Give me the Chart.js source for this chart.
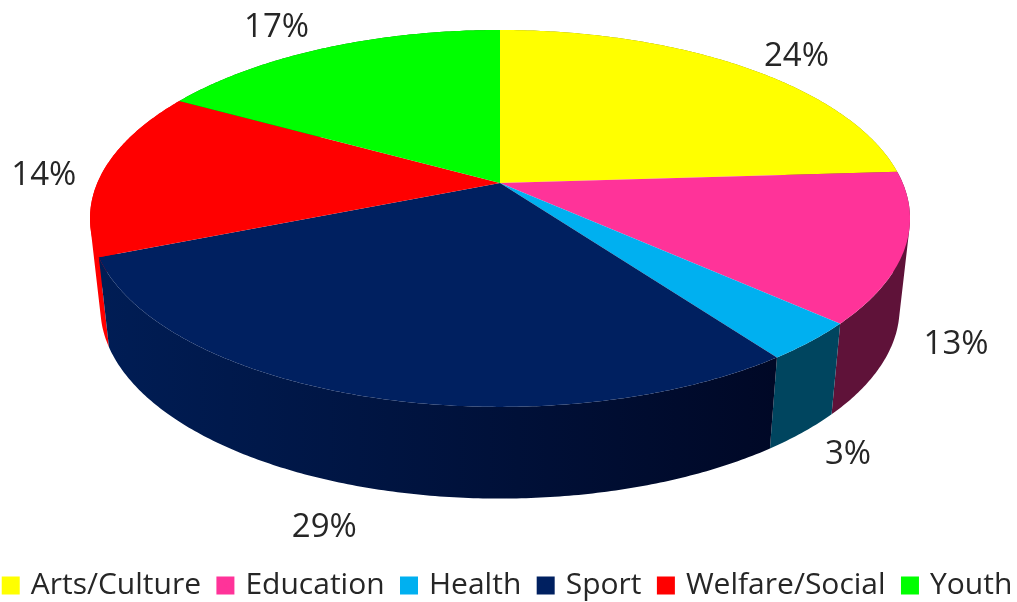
<!DOCTYPE html>
<html>
<head>
<meta charset="utf-8">
<title>Pie</title>
<script src="https://cdn.jsdelivr.net/npm/chart.js@4/dist/chart.umd.min.js"></script>
<style>
  html, body { margin: 0; padding: 0; background: #fff; }
  #wrap { width: 1017px; height: 602px; }
</style>
</head>
<body>
<div id="wrap"><canvas id="pie-chart"></canvas></div>
<script>
var categories = ['Arts/Culture', 'Education', 'Health', 'Sport', 'Welfare/Social', 'Youth'];
var shares = [24.0, 12.8, 3.3, 28.7, 14.4, 16.8];
var topColors = ['#ffff00', '#ff3399', '#00b0f0', '#002060', '#ff0000', '#00ff00'];
var wallColors = [
  ['#7f7f00', '#7f7f00'],
  ['#5f1239', '#5f1239'],
  ['#00455f', '#00455f'],
  ['#001d55', '#000826'],
  ['#ff0000', '#ff0000'],
  ['#007f00', '#007f00']
];
// label nudge away from the rim, in px
var labelNudges = [[54, -10], [51, 97], [37, 113], [-40, 131], [-59, 4], [-49, -20]];

// tilted disc, near edge bigger (homography of the unit circle)
var tilt = -0.188;
var topFace = { cx: 500, cy: 183, rx: 402.7, ry: 181.8 };
var lowFace = { cx: 500, cy: 272, rx: 392.5, ry: 184 };

function project(face, angle) {
  var u = Math.cos(angle), v = Math.sin(angle);
  var d = 1 + tilt * v;
  return { x: face.cx + face.rx * u / d, y: face.cy + face.ry * v / d };
}

function rim(face, start, end) {
  var pts = [];
  var steps = Math.max(2, Math.ceil((end - start) / 0.01));
  for (var i = 0; i <= steps; i++) {
    pts.push(project(face, start + (end - start) * i / steps));
  }
  return pts;
}

// one quad per step, all wound the same way so the fill is their union
function addQuad(ctx, a, b, c, d) {
  var q = [a, b, c, d];
  var area = 0;
  for (var i = 0; i < 4; i++) {
    var n = q[(i + 1) % 4];
    area += q[i].x * n.y - n.x * q[i].y;
  }
  if (area < 0) q.reverse();
  ctx.moveTo(q[0].x, q[0].y);
  ctx.lineTo(q[1].x, q[1].y);
  ctx.lineTo(q[2].x, q[2].y);
  ctx.lineTo(q[3].x, q[3].y);
  ctx.closePath();
}

var tiltedPie = {
  id: 'tiltedPie',
  beforeDatasetDraw: function(chart) {
    var ctx = chart.ctx;
    var arcs = chart.getDatasetMeta(0).data.map(function(arc, i) {
      return { i: i, start: arc.startAngle, end: arc.endAngle };
    });

    // walls, back to front
    arcs.slice().sort(function(a, b) {
      return Math.sin((a.start + a.end) / 2) - Math.sin((b.start + b.end) / 2);
    }).forEach(function(a) {
      var upper = rim(topFace, a.start, a.end);
      var lower = rim(lowFace, a.start, a.end);
      var left = Math.min(upper[0].x, upper[upper.length - 1].x);
      var right = Math.max(upper[0].x, upper[upper.length - 1].x);
      var grad = ctx.createLinearGradient(left, 0, right, 0);
      grad.addColorStop(0, wallColors[a.i][0]);
      grad.addColorStop(1, wallColors[a.i][1]);
      ctx.beginPath();
      for (var s = 0; s < upper.length - 1; s++) {
        addQuad(ctx, upper[s], upper[s + 1], lower[s + 1], lower[s]);
      }
      ctx.fillStyle = grad;
      ctx.fill();
    });

    // top face
    arcs.forEach(function(a) {
      ctx.beginPath();
      ctx.moveTo(topFace.cx, topFace.cy);
      rim(topFace, a.start, a.end).forEach(function(p) { ctx.lineTo(p.x, p.y); });
      ctx.closePath();
      ctx.fillStyle = topColors[a.i];
      ctx.fill();
    });

    // percent labels
    ctx.font = '33px "Open Sans"';
    ctx.fillStyle = '#262626';
    ctx.textAlign = 'center';
    ctx.textBaseline = 'middle';
    arcs.forEach(function(a) {
      var p = project(topFace, (a.start + a.end) / 2);
      ctx.fillText(Math.round(shares[a.i]) + '%', p.x + labelNudges[a.i][0], p.y + labelNudges[a.i][1]);
    });
    return false;
  }
};

new Chart(document.getElementById('pie-chart'), {
  type: 'pie',
  data: {
    labels: categories,
    datasets: [{
      data: shares,
      backgroundColor: topColors,
      borderColor: topColors,
      borderWidth: 8
    }]
  },
  plugins: [tiltedPie],
  options: {
    responsive: true,
    maintainAspectRatio: false,
    animation: false,
    layout: { padding: { left: -25, right: -26, bottom: -8.4 } },
    plugins: {
      tooltip: { enabled: false },
      legend: {
        position: 'bottom',
        labels: {
          color: '#262626',
          font: { family: 'Open Sans', size: 30 },
          boxWidth: 10,
          boxHeight: 10,
          padding: 19.4
        }
      }
    }
  }
});
</script>
</body>
</html>
